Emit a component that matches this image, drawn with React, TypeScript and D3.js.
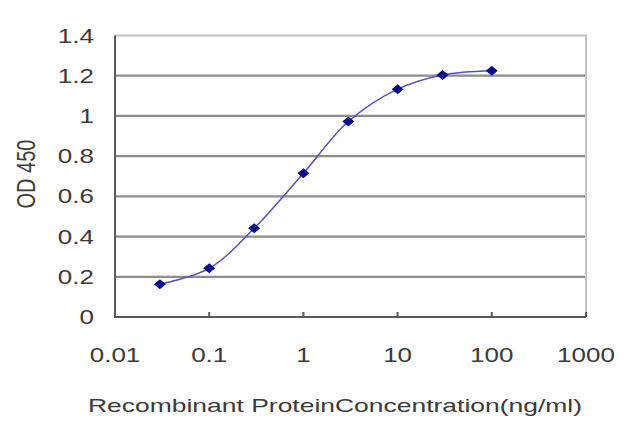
import React, { useEffect, useRef } from "react";
import * as d3 from "d3";

const concentrations = [0.03, 0.1, 0.3, 1, 3, 10, 30, 100];
const odValues = [0.163, 0.242, 0.441, 0.715, 0.972, 1.133, 1.204, 1.225];
const xTicks = [0.01, 0.1, 1, 10, 100, 1000];
const yTicks = [0, 0.2, 0.4, 0.6, 0.8, 1, 1.2, 1.4];
const xTitle = "Recombinant ProteinConcentration(ng/ml)";
const yTitle = "OD 450";

const W = 640;
const H = 427;

const App: React.FC = () => {
  const ref = useRef<SVGSVGElement | null>(null);

  useEffect(() => {
    if (!ref.current) return;
    const svg = d3.select(ref.current);
    svg.selectAll("*").remove();

    const left = 115;
    const right = 586;
    const top = 35.5;
    const bottom = 317;

    const x = d3.scaleLog().domain([0.01, 1000]).range([left, right]);
    const y = d3.scaleLinear().domain([0, 1.4]).range([bottom, top]);
    const textColor = "#3a3a3a";
    const font = "Arial, 'Liberation Sans', sans-serif";

    // horizontal gridlines
    svg
      .append("g")
      .selectAll("line")
      .data(yTicks.filter((d) => d > 0 && d < 1.4))
      .enter()
      .append("line")
      .attr("x1", left)
      .attr("x2", right)
      .attr("y1", (d) => y(d))
      .attr("y2", (d) => y(d))
      .attr("stroke", "#8c8c8c")
      .attr("stroke-width", 2.2);

    // plot frame: top + right light
    svg
      .append("path")
      .attr("d", `M${left},${top}H${right}V${bottom}`)
      .attr("fill", "none")
      .attr("stroke", "#c4c4c4")
      .attr("stroke-width", 2);

    // axes
    svg
      .append("path")
      .attr("d", `M${left},${top}V${bottom}H${right}`)
      .attr("fill", "none")
      .attr("stroke", "#5a5a5a")
      .attr("stroke-width", 2);

    svg
      .append("g")
      .selectAll("line")
      .data(xTicks.slice(1))
      .enter()
      .append("line")
      .attr("x1", (d) => x(d))
      .attr("x2", (d) => x(d))
      .attr("y1", bottom)
      .attr("y2", bottom - 5)
      .attr("stroke", "#5a5a5a")
      .attr("stroke-width", 2);

    // y tick labels
    svg
      .append("g")
      .selectAll("text")
      .data(yTicks)
      .enter()
      .append("text")
      .attr("transform", (d) => `translate(94,${y(d) + 7}) scale(1.3,1)`)
      .attr("text-anchor", "end")
      .attr("font-family", font)
      .attr("font-size", 20)
      .attr("fill", textColor)
      .text((d) => String(d));

    // x tick labels
    svg
      .append("g")
      .selectAll("text")
      .data(xTicks)
      .enter()
      .append("text")
      .attr("transform", (d) => `translate(${x(d)},362) scale(1.3,1)`)
      .attr("text-anchor", "middle")
      .attr("font-family", font)
      .attr("font-size", 20)
      .attr("fill", textColor)
      .text((d) => String(d));

    // axis titles
    svg
      .append("text")
      .attr("x", 88)
      .attr("y", 412)
      .attr("textLength", 494)
      .attr("lengthAdjust", "spacingAndGlyphs")
      .attr("font-family", font)
      .attr("font-size", 19)
      .attr("fill", textColor)
      .text(xTitle);

    svg
      .append("text")
      .attr("transform", `translate(35,174) scale(1.3,1) rotate(-90)`)
      .attr("text-anchor", "middle")
      .attr("font-family", font)
      .attr("font-size", 20)
      .attr("fill", textColor)
      .text(yTitle);

    const pts: [number, number][] = concentrations.map((c, i) => [c, odValues[i]]);

    const line = d3
      .line<[number, number]>()
      .x((d) => x(d[0]))
      .y((d) => y(d[1]))
      .curve(d3.curveCatmullRom.alpha(0.5));

    svg
      .append("path")
      .datum(pts)
      .attr("d", line)
      .attr("fill", "none")
      .attr("stroke", "#5050c8")
      .attr("stroke-width", 1.5);

    const diamond = "M0,-5L6,0L0,5L-6,0Z";
    svg
      .append("g")
      .selectAll("path")
      .data(pts)
      .enter()
      .append("path")
      .attr("transform", (d) => `translate(${x(d[0])},${y(d[1])})`)
      .attr("d", diamond)
      .attr("fill", "#0a0a8c");
  }, []);

  return (
    <svg
      ref={ref}
      width={W}
      height={H}
      style={{ position: "absolute", left: 0, top: 0, background: "#fff" }}
    />
  );
};

export default App;
